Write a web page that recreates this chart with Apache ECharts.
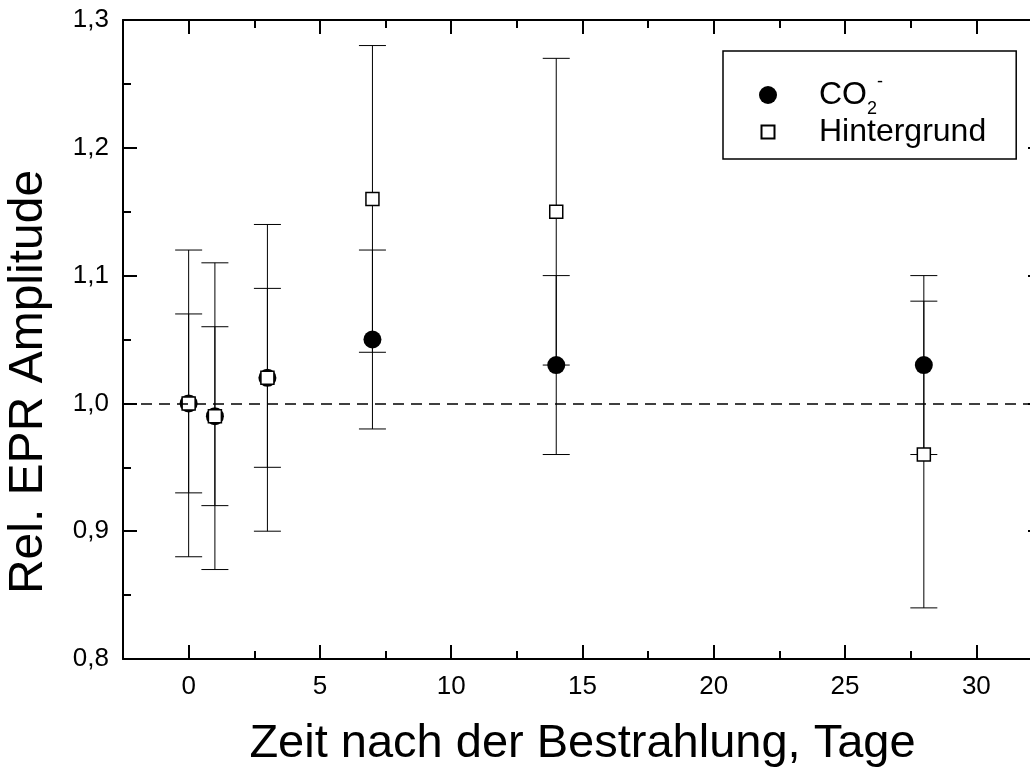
<!DOCTYPE html>
<html><head><meta charset="utf-8">
<script src="https://cdn.jsdelivr.net/npm/echarts@6/dist/echarts.min.js"></script>
<style>html,body{margin:0;padding:0;background:#fff}#c{width:1030px;height:769px}</style>
</head><body><div id="c"></div>
<script>
const days = [0, 1, 3, 7, 14, 28];
const co2Values = [1.00, 0.99, 1.02, 1.05, 1.03, 1.03];
const co2Errors = [0.07, 0.07, 0.07, 0.07, 0.07, 0.07];
const bgValues = [1.00, 0.99, 1.02, 1.16, 1.15, 0.96];
const bgErrors = [0.12, 0.12, 0.12, 0.12, 0.12, 0.12];
const xMajorTicks = [0, 5, 10, 15, 20, 25, 30];
const xMinorTicks = [2.5, 7.5, 12.5, 17.5, 22.5, 27.5];
const seriesNames = ['CO2-', 'Hintergrund'];
const xTitle = 'Zeit nach der Bestrahlung, Tage';
const yTitle = 'Rel. EPR Amplitude';

const FF = '"Liberation Sans", Arial, sans-serif';
const chart = echarts.init(document.getElementById('c'), null, {renderer: 'canvas'});

const co2Data = days.map((d, i) => [d, co2Values[i]]);
const bgData = days.map((d, i) => [d, bgValues[i]]);
const co2ErrData = days.map((d, i) => [d, co2Values[i], co2Errors[i]]);
const bgErrData = days.map((d, i) => [d, bgValues[i], bgErrors[i]]);

function errRender(params, api) {
  const x = api.value(0), y = api.value(1), e = api.value(2);
  const top = api.coord([x, y + e]);
  const bot = api.coord([x, y - e]);
  const hw = 13.5;
  const st = {stroke: '#000', lineWidth: 1, fill: null};
  return {
    type: 'group',
    children: [
      {type: 'line', shape: {x1: top[0], y1: top[1], x2: bot[0], y2: bot[1]}, style: st},
      {type: 'line', shape: {x1: top[0] - hw, y1: top[1], x2: top[0] + hw, y2: top[1]}, style: st},
      {type: 'line', shape: {x1: bot[0] - hw, y1: bot[1], x2: bot[0] + hw, y2: bot[1]}, style: st}
    ]
  };
}

const axisLineStyle = {color: '#000', width: 2};
function xAx(pos, ticks, len, showLine, labels, extra) {
  return Object.assign({
    type: 'value', min: -2.5, max: 32.5, position: pos,
    axisLine: {show: showLine, onZero: false, lineStyle: axisLineStyle},
    axisTick: {show: true, inside: true, length: len, customValues: ticks, lineStyle: {color: '#000', width: 2}},
    axisLabel: labels ? {show: true, customValues: ticks, fontSize: 26, color: '#000', fontFamily: FF, margin: 15} : {show: false},
    splitLine: {show: false}
  }, extra || {});
}
function yAx(pos, labels, extra) {
  return Object.assign({
    type: 'value', min: 0.8, max: 1.3, interval: 0.1, position: pos,
    axisLine: {show: true, onZero: false, lineStyle: axisLineStyle},
    axisTick: {show: true, inside: true, length: 14, lineStyle: {color: '#000', width: 2}},
    minorTick: {show: true, splitNumber: 2, length: 8, lineStyle: {color: '#000', width: 2}},
    axisLabel: labels ? {show: true, fontSize: 26, color: '#000', fontFamily: FF, margin: 14,
      formatter: v => v.toFixed(1).replace('.', ',')} : {show: false},
    splitLine: {show: false}, minorSplitLine: {show: false}
  }, extra || {});
}

const option = {
  backgroundColor: '#fff',
  animation: false,
  grid: {left: 123, right: -12, top: 20, bottom: 110, containLabel: false, outerBoundsMode: 'none'},
  xAxis: [
    xAx('bottom', xMajorTicks, 14, true, true, {name: xTitle, nameLocation: 'middle', nameGap: 62,
      nameTextStyle: {fontSize: 47, color: '#000', fontFamily: FF}}),
    xAx('bottom', xMinorTicks, 8, false, false),
    xAx('top', xMajorTicks, 14, true, false),
    xAx('top', xMinorTicks, 8, false, false)
  ],
  yAxis: [
    yAx('left', true, {name: yTitle, nameLocation: 'middle', nameGap: 70,
      nameTextStyle: {fontSize: 48, color: '#000', fontFamily: FF, padding: [0, 85, 0, 0]}}),
    yAx('right', false)
  ],
  legend: {
    data: [
      {name: seriesNames[0], icon: 'circle'},
      {name: seriesNames[1], icon: 'path://M0 0M18 18M2.5 2.5h13v13h-13z'}
    ],
    orient: 'vertical', left: 723, top: 51,
    padding: [22, 30, 11, 35],
    itemWidth: 18, itemHeight: 18, itemGap: -2,
    borderColor: '#000', borderWidth: 1.5, borderRadius: 0,
    selectedMode: false,
    formatter: name => name === seriesNames[0] ? '{n|CO}{sub|2}{sup|-}' : '{n|' + name + '}',
    textStyle: {
      fontSize: 32, color: '#000', fontFamily: FF, padding: [0, 0, 0, 37],
      rich: {
        n: {fontSize: 32, fontFamily: FF, color: '#000'},
        sub: {fontSize: 18, lineHeight: 10, fontFamily: FF, color: '#000', padding: [14, 0, -14, 0]},
        sup: {fontSize: 18, lineHeight: 10, fontFamily: FF, color: '#000', padding: [-13, 0, 13, 0]}
      }
    }
  },
  series: [
    {type: 'custom', renderItem: errRender, data: bgErrData, encode: {x: 0, y: 1}, z: 1, silent: true},
    {type: 'custom', renderItem: errRender, data: co2ErrData, encode: {x: 0, y: 1}, z: 1, silent: true},
    {
      name: seriesNames[0], type: 'scatter', data: co2Data, symbol: 'circle', symbolSize: 18, z: 3,
      itemStyle: {color: '#000', opacity: 1},
      markLine: {
        silent: true, symbol: 'none', label: {show: false},
        lineStyle: {type: [11, 7], color: '#000', width: 1.5},
        data: [{yAxis: 1.0}]
      }
    },
    {
      name: seriesNames[1], type: 'scatter', data: bgData, symbol: 'rect', symbolSize: 13, z: 4,
      itemStyle: {color: '#fff', borderColor: '#000', borderWidth: 1.5, opacity: 1}
    }
  ]
};
chart.setOption(option);
</script>
</body></html>
